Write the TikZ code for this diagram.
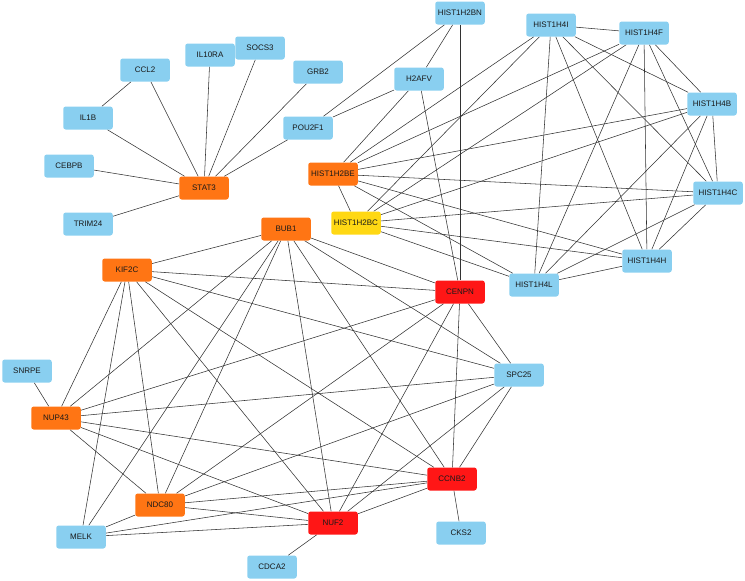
\documentclass[tikz,border=0pt]{standalone}
\usepackage{fontspec}
\setmainfont{Liberation Sans}
\usetikzlibrary{backgrounds}
\definecolor{nblue}{RGB}{137,207,240}
\definecolor{norange}{RGB}{255,117,20}
\definecolor{nred}{RGB}{255,22,22}
\definecolor{nyellow}{RGB}{255,216,20}
\definecolor{edgecol}{RGB}{50,50,50}
\tikzset{
  gene/.style={rectangle, rounded corners=2.5pt, minimum width=49.5pt, minimum height=23pt,
    inner sep=0pt, font=\fontsize{8}{9}\selectfont, text=black!90},
  gblue/.style={gene, fill=nblue},
  gorange/.style={gene, fill=norange},
  gred/.style={gene, fill=nred},
  gyellow/.style={gene, fill=nyellow},
  link/.style={draw=edgecol, line width=0.55pt}
}
\begin{document}
\begin{tikzpicture}[x=1pt,y=-1pt]
\useasboundingbox (0,0) rectangle (745,581);
% cluster 1
\node[gblue] (CCL2) at (145,70) {CCL2};
\node[gblue] (IL10RA) at (210,55) {IL10RA};
\node[gblue] (SOCS3) at (260,48) {SOCS3};
\node[gblue] (GRB2) at (318,72) {GRB2};
\node[gblue] (IL1B) at (88,118) {IL1B};
\node[gblue] (POU2F1) at (308,128) {POU2F1};
\node[gblue] (CEBPB) at (69,166) {CEBPB};
\node[gorange] (STAT3) at (204,188) {STAT3};
\node[gblue] (TRIM24) at (88,224) {TRIM24};
% cluster 2
\node[gblue] (H2BN) at (460,13) {HIST1H2BN};
\node[gblue] (H4I) at (551,25) {HIST1H4I};
\node[gblue] (H4F) at (644,33) {HIST1H4F};
\node[gblue] (H2AFV) at (419,79) {H2AFV};
\node[gblue] (H4B) at (712,104) {HIST1H4B};
\node[gorange] (H2BE) at (333,174) {HIST1H2BE};
\node[gblue] (H4C) at (718,193) {HIST1H4C};
\node[gyellow] (H2BC) at (356,223) {HIST1H2BC};
\node[gblue] (H4H) at (647,261) {HIST1H4H};
\node[gblue] (H4L) at (534,285) {HIST1H4L};
% cluster 3
\node[gorange] (BUB1) at (286,229) {BUB1};
\node[gred] (CENPN) at (460,292) {CENPN};
\node[gorange] (KIF2C) at (127,270) {KIF2C};
\node[gblue] (SNRPE) at (27,371) {SNRPE};
\node[gblue] (SPC25) at (519,375) {SPC25};
\node[gorange] (NUP43) at (56,418) {NUP43};
\node[gred] (CCNB2) at (452,479) {CCNB2};
\node[gorange] (NDC80) at (160,505) {NDC80};
\node[gred] (NUF2) at (333,523) {NUF2};
\node[gblue] (MELK) at (81,537) {MELK};
\node[gblue] (CKS2) at (461,533) {CKS2};
\node[gblue] (CDCA2) at (272,567) {CDCA2};

\begin{scope}[on background layer]
% cluster 1
\foreach \t in {CCL2,IL10RA,SOCS3,GRB2,POU2F1,IL1B,CEBPB,TRIM24}
  \draw[link] (STAT3) -- (\t);
\draw[link] (IL1B) -- (CCL2);
% cluster 2
\draw[link] (POU2F1) -- (H2BN);
\draw[link] (POU2F1) -- (H2AFV);
\draw[link] (H2AFV) -- (H2BN);
\draw[link] (H2BN) -- (CENPN);
\draw[link] (H2AFV) -- (CENPN);
\draw[link] (H2AFV) -- (H2BE);
\foreach \a/\b in {H4I/H4F,H4I/H2BE,H4I/H2BC,H4I/H4L,H4I/H4H,H4I/H4C,H4I/H4B,
  H4F/H2BE,H4F/H2BC,H4F/H4L,H4F/H4H,H4F/H4B,H4F/H4C,
  H4B/H2BE,H4B/H2BC,H4B/H4C,H4B/H4L,H4B/H4H,
  H4C/H2BE,H4C/H2BC,H4C/H4H,H4C/H4L,
  H4H/H2BE,H4H/H2BC,H4H/H4L,
  H4L/H2BE,H4L/H2BC,
  H2BE/H2BC}
  \draw[link] (\a) -- (\b);
% cluster 3
\foreach \a/\b in {BUB1/KIF2C,BUB1/NUP43,BUB1/MELK,BUB1/NDC80,BUB1/NUF2,BUB1/CCNB2,BUB1/SPC25,BUB1/CENPN,
  KIF2C/NUP43,KIF2C/MELK,KIF2C/NDC80,KIF2C/NUF2,KIF2C/CCNB2,KIF2C/SPC25,KIF2C/CENPN,
  NUP43/SNRPE,NUP43/NDC80,NUP43/NUF2,NUP43/CCNB2,NUP43/SPC25,NUP43/CENPN,
  NDC80/MELK,NDC80/NUF2,NDC80/CCNB2,NDC80/SPC25,NDC80/CENPN,
  MELK/NUF2,MELK/CCNB2,
  NUF2/CDCA2,NUF2/CCNB2,NUF2/SPC25,NUF2/CENPN,
  CCNB2/CKS2,CCNB2/SPC25,CCNB2/CENPN,
  CENPN/SPC25}
  \draw[link] (\a) -- (\b);
\end{scope}
\end{tikzpicture}
\end{document}
